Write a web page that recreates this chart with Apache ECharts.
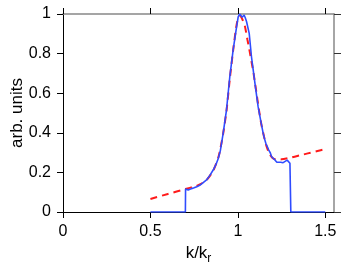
<!DOCTYPE html>
<html><head><meta charset="utf-8">
<script src="https://cdn.jsdelivr.net/npm/echarts@6/dist/echarts.min.js"></script>
<style>html,body{margin:0;padding:0;background:#fff}#c{width:346px;height:273px}</style>
</head><body><div id="c"></div>
<script>
var xTicks = [0, 0.5, 1, 1.5];
var yTicks = [0, 0.2, 0.4, 0.6, 0.8, 1];
var measuredX = [0.5, 0.700, 0.701, 0.716, 0.735, 0.75, 0.765, 0.782, 0.80, 0.821, 0.84, 0.859, 0.875, 0.887, 0.90, 0.916, 0.935, 0.954, 0.973, 0.993, 1.002, 1.011, 1.018, 1.025, 1.031, 1.036, 1.043, 1.05, 1.065, 1.078, 1.088, 1.103, 1.116, 1.13, 1.145, 1.152, 1.16, 1.168, 1.177, 1.185, 1.193, 1.202, 1.212, 1.222, 1.231, 1.245, 1.259, 1.27, 1.282, 1.29, 1.298, 1.302, 1.303, 1.5];
var measuredY = [0, 0, 0.116, 0.111, 0.118, 0.122, 0.128, 0.135, 0.147, 0.162, 0.185, 0.212, 0.24, 0.268, 0.31, 0.397, 0.515, 0.683, 0.818, 0.936, 0.986, 1.0, 0.99, 0.984, 0.99, 0.995, 0.98, 0.961, 0.902, 0.784, 0.717, 0.616, 0.532, 0.465, 0.397, 0.372, 0.347, 0.338, 0.313, 0.3, 0.279, 0.272, 0.263, 0.252, 0.249, 0.251, 0.249, 0.254, 0.262, 0.252, 0.246, 0.24, 0, 0];
var fitX = [0.5, 0.6, 0.7, 0.75, 0.78, 0.82, 0.86, 0.89, 0.915, 0.935, 0.955, 0.975, 0.99, 1.0, 1.012, 1.025, 1.04, 1.055, 1.07, 1.09, 1.105, 1.12, 1.135, 1.15, 1.165, 1.18, 1.2, 1.22, 1.25, 1.3, 1.35, 1.4, 1.45, 1.5];
var fitY = [0.066, 0.091, 0.116, 0.128, 0.138, 0.16, 0.21, 0.28, 0.39, 0.51, 0.68, 0.83, 0.93, 0.975, 0.99, 0.975, 0.94, 0.87, 0.8, 0.7, 0.61, 0.52, 0.44, 0.38, 0.33, 0.295, 0.272, 0.265, 0.266, 0.274, 0.285, 0.296, 0.307, 0.318];

function pairs(xs, ys) { return xs.map(function (x, i) { return [x, ys[i]]; }); }
var font = 'Liberation Sans, Arial, Helvetica, sans-serif';
var chart = echarts.init(document.getElementById('c'), null, {renderer: 'canvas'});
chart.setOption({
  animation: false,
  backgroundColor: '#fff',
  grid: {left: 63, right: 12, top: 14, bottom: 61, containLabel: false, outerBoundsMode: 'none'},
  xAxis: [{
    type: 'value', position: 'bottom', min: 0, max: 1.55, interval: 0.5,
    name: 'k/k{sub|r}', nameLocation: 'middle', nameGap: 29, nameMoveOverlap: false,
    nameTextStyle: {fontFamily: font, fontSize: 17, color: '#000',
      rich: {sub: {fontFamily: font, fontSize: 12, color: '#000', padding: [12, 0, 0, 0]}}},
    axisLine: {show: true, onZero: false, lineStyle: {color: '#000', width: 1}},
    axisTick: {show: true, inside: false, length: 6, customValues: xTicks, lineStyle: {color: '#000'}},
    axisLabel: {customValues: xTicks, margin: 12, fontFamily: font, fontSize: 16, color: '#000',
      formatter: function (v) { return String(v); }},
    splitLine: {show: false}
  }, {
    type: 'value', position: 'top', min: 0, max: 1.55, interval: 0.5,
    axisLine: {show: true, onZero: false, lineStyle: {color: '#888', width: 1.5}},
    axisTick: {show: true, inside: false, length: 6, customValues: xTicks, lineStyle: {color: '#000'}},
    axisLabel: {show: false},
    splitLine: {show: false}
  }],
  yAxis: [{
    type: 'value', position: 'left', min: 0, max: 1, interval: 0.2,
    name: 'arb. units', nameLocation: 'middle', nameGap: 37, nameMoveOverlap: false,
    nameTextStyle: {fontFamily: font, fontSize: 17, color: '#000'},
    axisLine: {show: true, onZero: false, lineStyle: {color: '#000', width: 1}},
    axisTick: {show: true, inside: false, length: 6, lineStyle: {color: '#000'}},
    axisLabel: {margin: 12, fontFamily: font, fontSize: 16, color: '#000',
      formatter: function (v) { return String(+v.toFixed(1)); }},
    splitLine: {show: false}
  }, {
    type: 'value', position: 'right', min: 0, max: 1, interval: 0.2,
    axisLine: {show: true, onZero: false, lineStyle: {color: '#888', width: 1.5}},
    axisTick: {show: true, inside: false, length: 7, lineStyle: {color: '#333'}},
    axisLabel: {show: false},
    splitLine: {show: false}
  }],
  series: [{
    type: 'line', xAxisIndex: 0, yAxisIndex: 0, data: pairs(fitX, fitY),
    showSymbol: false, smooth: 0.2, z: 3,
    lineStyle: {color: '#ff1a1a', width: 2, type: [7, 5]}
  }, {
    type: 'line', xAxisIndex: 0, yAxisIndex: 0, data: pairs(measuredX, measuredY),
    showSymbol: false, z: 4,
    lineStyle: {color: '#2f4cff', width: 1.6}
  }]
});
</script></body></html>
